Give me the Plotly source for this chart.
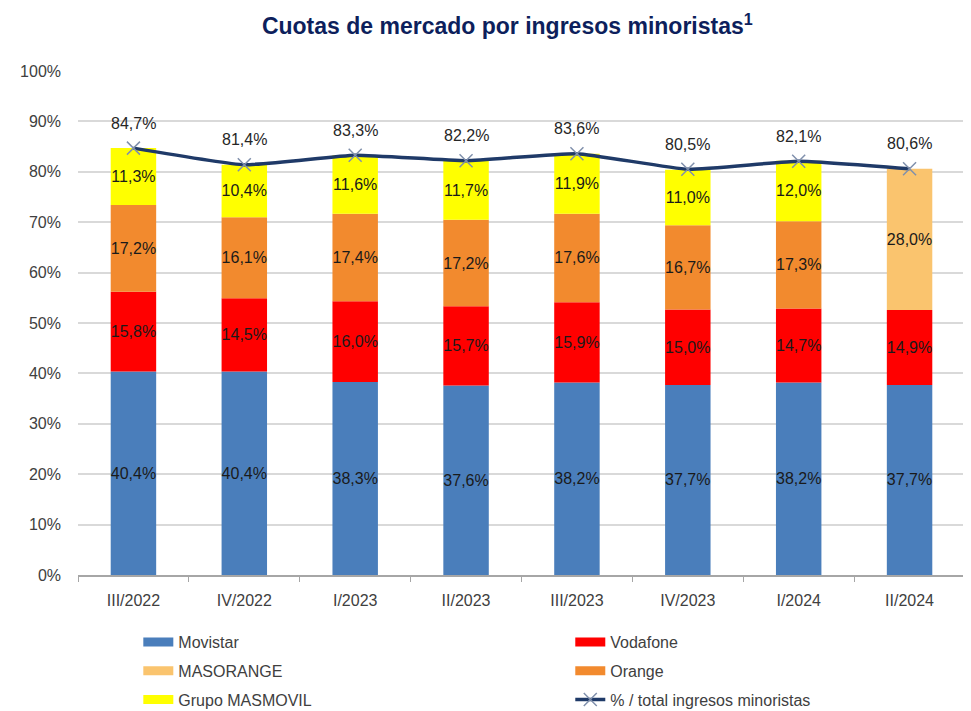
import plotly.graph_objects as go

quarters = ["III/2022", "IV/2022", "I/2023", "II/2023", "III/2023", "IV/2023", "I/2024", "II/2024"]
movistar = [40.4, 40.4, 38.3, 37.6, 38.2, 37.7, 38.2, 37.7]
vodafone = [15.8, 14.5, 16.0, 15.7, 15.9, 15.0, 14.7, 14.9]
masorange = [None, None, None, None, None, None, None, 28.0]
orange = [17.2, 16.1, 17.4, 17.2, 17.6, 16.7, 17.3, None]
masmovil = [11.3, 10.4, 11.6, 11.7, 11.9, 11.0, 12.0, None]
total = [84.7, 81.4, 83.3, 82.2, 83.6, 80.5, 82.1, 80.6]


def fmt(v):
    return f"{v:.1f}%".replace(".", ",")


FONT = "Liberation Sans, Arial, sans-serif"
# name, values, colour, legend column
series = [
    ("Movistar", movistar, "#4A7EBB", "legend"),
    ("Vodafone", vodafone, "#FF0000", "legend2"),
    ("MASORANGE", masorange, "#FAC46E", "legend"),
    ("Orange", orange, "#F28A2E", "legend2"),
    ("Grupo MASMOVIL", masmovil, "#FFFF00", "legend"),
]

fig = go.Figure()

for name, vals, color, leg in series:
    # only quarters where the operator has a value
    xs = [q for q, v in zip(quarters, vals) if v is not None]
    ys = [v for v in vals if v is not None]
    fig.add_trace(
        go.Bar(
            x=xs,
            y=ys,
            name=name,
            marker=dict(color=color, line=dict(width=0)),
            text=[fmt(v) for v in ys],
            textposition="inside",
            insidetextanchor="middle",
            textangle=0,
            constraintext="none",
            textfont=dict(size=16, color="#1a1a1a", family=FONT),
            showlegend=False,
            hoverinfo="skip",
        )
    )
    # legend swatch drawn as a wide line
    fig.add_trace(
        go.Scatter(
            x=[None], y=[None], mode="lines", name=name,
            line=dict(color=color, width=9),
            legend=leg, legendgroup=name,
        )
    )

fig.add_trace(
    go.Scatter(
        x=quarters,
        y=total,
        mode="lines+markers",
        name="% / total ingresos minoristas",
        line=dict(color="#1F3A68", width=3.5, shape="spline", smoothing=0.4),
        marker=dict(symbol="x-thin", size=13, line=dict(color="#8090AC", width=1.5)),
        legend="legend2", legendgroup="total",
    )
)

for q, v in zip(quarters, total):
    fig.add_annotation(
        x=q, y=v, text=fmt(v), showarrow=False, yshift=25,
        font=dict(size=16, color="#262626", family=FONT),
    )

legend_style = dict(
    orientation="v",
    yref="container",
    y=0.1223, yanchor="top",
    xanchor="left",
    font=dict(size=16, color="#404040"),
    itemwidth=30,
    tracegroupgap=5,
    bgcolor="rgba(0,0,0,0)",
)

# page body adds an 8px margin, so the figure is 8px smaller than the window
fig.update_layout(
    width=963,
    height=703,
    barmode="relative",
    bargap=0.59,
    plot_bgcolor="white",
    paper_bgcolor="white",
    font=dict(family=FONT, size=16, color="#404040"),
    margin=dict(l=70, r=6, t=63, b=136),
    title=dict(
        text="<b>Cuotas de mercado por ingresos minoristas<sup>1</sup></b>",
        font=dict(size=23, color="#0D1F5C", family=FONT),
        x=0.484, xref="paper", xanchor="center",
        y=0.974, yanchor="middle",
    ),
    legend=dict(x=0.068, **legend_style),
    legend2=dict(x=0.555, **legend_style),
    showlegend=True,
)

fig.update_yaxes(
    range=[0, 100],
    dtick=10,
    ticksuffix="%",
    showgrid=True,
    gridcolor="#D9D9D9",
    gridwidth=1.5,
    zeroline=False,
    showline=False,
    ticks="",
    ticklabelstandoff=16,
    tickfont=dict(size=16, color="#404040"),
)
fig.update_xaxes(
    showline=True,
    linecolor="#A6A6A6",
    linewidth=1.5,
    ticks="outside",
    tickson="boundaries",
    ticklen=5,
    tickcolor="#A6A6A6",
    tickfont=dict(size=16, color="#404040"),
    ticklabelstandoff=10,
)

fig.write_html("out.html")
